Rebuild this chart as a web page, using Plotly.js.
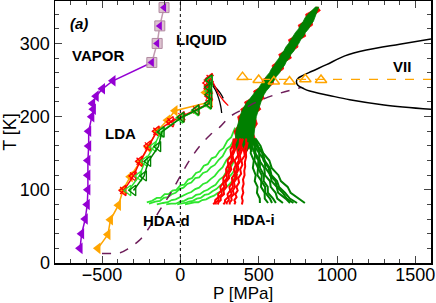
<!DOCTYPE html>
<html><head><meta charset="utf-8">
<script src="https://cdn.plot.ly/plotly-3.0.1.min.js"></script>
<style>html,body{margin:0;padding:0;background:#fff}#plot{width:436px;height:303px}</style>
</head><body><div id="plot"></div>
<script>
// ---- data (P in MPa, T in K) ----
const vaporP = [-640,-630,-607,-594,-590,-590,-590,-585,-585,-565,-555,-560,-537,-497,-430,-182];
const vaporT = [20,40,60,80,100,120,140,160,180,200,210,218,228,238,249,274];
const squareP = [-182,-148,-131,-104];
const squareT = [274,300,324,349];

const orangeP = [-526,-462,-446,-395,-365,-320,-257,-204,-150,-82,-34,190,160,180];
const orangeT = [20,39,59,79,100,118,138,158,180,195,208,220,233,242];

const redP = [-362,-299,-257,-204,-150,-60,10,104,183,186,180,172,190];
const redT = [99,119,139,160,180,193,200,209,218,228,238,246,252];
const dgreenP = [-299,-231,-204,-140,-118,9,104,183,185,183,188];
const dgreenT = [99,119,139,159,179,199,209,218,230,240,250];
const lgreenP = [-331,-262,-225,-170,-125,0,100,180,186,190];
const lgreenT = [99,119,139,159,179,198,208,217,235,249];

const redArcP = [172,190,215,242,275,306];
const redArcT = [248,252,244,232,222,215];
const black1P = [195,225,255,274];
const black1T = [248,240,232,225];
const black2P = [200,225,245,258,264];
const black2T = [244,236,225,214,205];

const hdaDashP = [-500,-440,-384,-330,-290,-256,-200,-160,-129,-60,-2,61,125,190,253,317,400,487,620,773];
const hdaDashT = [13,13,14,20,26,32,48,62,73,96,118,141,160,175,186,200,210,220,231,240];

const viiP = [1600,1400,1187,1050,933,840,780,750,741,750,790,826,950,1081,1300,1600];
const viiT = [306,299,291,283,271,262,256,252,248,243,238,235,229,223,216,210];

const meltP = [400,1600];
const meltT = [251,251];
const triP = [397,500,597,697,798,898];
const triT = [254,250,248,248,251,250];

// ---- noisy simulation trajectories ----
// main compression trunk (outline: left edge downwards, bottom, right edge upwards)
const trunkGP = [864,838,815,796,784,766,755,735,722,704,691,673,661,642,630,612,600,581,569,549,536,517,503,482,466,446,425,410,398,388,380,368,355,350,348,
  370,395,415,440,458,
  462,465,470,478,485,492,500,508,516,522,534,548,569,581,601,613,634,645,665,676,695,706,726,737,756,768,787,799,819,830,849,858,870,880,884];
const trunkGT = [350,345,340,335,330,325,320,315,310,305,300,295,290,285,280,275,270,265,260,255,250,245,240,235,230,225,220,215,210,205,200,190,180,170,160,
  152,160,150,158,152,
  160,170,180,190,200,205,210,215,220,225,230,235,240,245,250,255,260,265,270,275,280,285,290,295,300,305,310,315,320,325,330,335,340,345,350];
const trunkRP = [870,846,800,804,792,752,763,743,730,690,699,681,669,628,638,620,586,589,577,557,522,525,511,468,474,454,410,418,385,396,366,376,342,358,356,
  378,398,420,438,452,
  454,479,462,492,477,484,514,500,508,536,526,540,561,595,593,605,626,659,657,668,709,698,718,751,748,760,801,791,811,844,841,850,862,894,876];
const trunkRT = trunkGT;

// decompression strands to HDA-d (light green)
const l1P = [350,325,300,275,250,225,200,175,150,125,100,75,50,25,0,-25,-50,-75,-100,-125,-150,-180,-214];
const l1T = [185,172,167,157,153,145,143,135,133,125,123,116,114,107,106,100,99,94,94,89,89,85,83];
const l2P = [345,320,295,270,245,220,195,170,145,120,95,70,45,20,-5,-30,-55,-80,-105,-130,-160,-200];
const l2T = [170,160,156,146,141,134,131,125,123,117,116,110,108,103,101,96,94,90,89,85,84,81];
const l3P = [345,320,295,270,245,220,195,170,145,120,95,70,45,20,-5,-30,-55,-80,-110,-150];
const l3T = [155,146,141,131,126,119,115,110,108,103,101,97,95,92,90,87,86,83,82,80];
const l4P = [350,325,300,275,250,225,200,175,150,125,100,75,50,25,0,-30,-60,-90];
const l4T = [142,132,127,118,114,107,104,100,98,94,93,89,88,85,84,81,81,80];
const l5P = [355,330,305,280,255,230,205,180,155,130,105,80,55,30,0,-20];
const l5T = [130,122,116,110,106,101,98,94,93,89,88,85,84,82,81,80];
const l6P = [365,340,315,290,265,240,215,190,165,140,115,90,60,30];
const l6T = [122,114,108,103,98,96,92,90,87,86,83,83,81,80];

// cooling strands (red)
const rT = [170,162,155,147,140,134,128,122,116,110,104,99,94,90,86,83,80];
const r1P = [340,338,320,325,302,306,292,294,274,275,255,260,241,243,223,221,210];
const r7P = [350,335,340,324,328,307,313,295,298,275,280,262,265,244,244,228,225];
const r2P = [360,345,350,334,338,318,325,308,311,289,294,276,279,257,258,243,240];
const r3P = [380,380,363,369,347,354,342,348,329,333,313,318,301,305,285,285,275];
const r8P = [390,378,384,369,374,355,362,347,351,331,336,321,327,308,310,297,295];
const r4P = [400,388,395,380,386,366,372,357,361,342,349,335,342,324,328,316,315];
const r5P = [420,421,405,411,390,396,382,388,369,375,358,366,351,359,345,351,345];
const r6P = [430,418,420,412,414,408,410,400,404,396,402,392,398,393];
const r6T = [165,152,145,138,132,126,120,114,108,102,96,90,85,80];

// cooling strands (dark green)
const gT = [170,160,150,140,130,120,112,104,96,88,82];
const g1P = [440,454,449,469,463,481,475,493,489,507,508];
const g2P = [450,454,478,473,496,492,517,515,538,539,560];
const g9P = [454,473,472,498,495,520,517,541,542,572,585];
const g3P = [458,479,479,508,508,534,532,558,559,592,610];
const g4P = [464,474,503,505,536,540,572,577,608,619,655];
const g5P = [470,495,504,538,543,576,582,615,624,672,700];
const g8P = [472,487,523,531,564,572,607,617,653,679,722];
const g6P = [475,492,528,538,571,582,617,630,668,699,745];
const g7P = [480,512,529,568,583,626,642,685,704,757,795];

// ---- colours ----
const PURPLE = '#9400D3', ORANGE = '#FFA500', RED = '#FF0000', DGREEN = '#008000', LGREEN = '#2EE62E', HDA = '#6E1E5A';

const poly = (x, y, c) => ({x, y, type:'scatter', mode:'lines', fill:'toself', fillcolor:c, line:{color:c, width:0.8}});
const strand = (x, y, c, w) => ({x, y, type:'scatter', mode:'lines', line:{color:c, width:w || 2}});

const traces = [
  strand(l1P, l1T, LGREEN, 1.8), strand(l2P, l2T, LGREEN, 1.8), strand(l3P, l3T, LGREEN, 1.8),
  strand(l4P, l4T, LGREEN, 1.8), strand(l5P, l5T, LGREEN, 1.8), strand(l6P, l6T, LGREEN, 1.8),
  poly(trunkRP, trunkRT, RED),
  poly(trunkGP, trunkGT, DGREEN),
  strand(g1P, gT, DGREEN), strand(g2P, gT, DGREEN), strand(g9P, gT, DGREEN), strand(g3P, gT, DGREEN), strand(g4P, gT, DGREEN),
  strand(g5P, gT, DGREEN), strand(g8P, gT, DGREEN), strand(g6P, gT, DGREEN), strand(g7P, gT, DGREEN),
  strand(r1P, rT, RED), strand(r7P, rT, RED), strand(r2P, rT, RED), strand(r3P, rT, RED), strand(r8P, rT, RED),
  strand(r4P, rT, RED), strand(r5P, rT, RED), strand(r6P, r6T, RED),
  {x:hdaDashP, y:hdaDashT, type:'scatter', mode:'lines', line:{color:HDA, width:1.5, dash:'dash', shape:'spline'}},
  {x:viiP, y:viiT, type:'scatter', mode:'lines', line:{color:'#000', width:1.5, shape:'spline'}},
  {x:meltP, y:meltT, type:'scatter', mode:'lines', line:{color:ORANGE, width:1.3, dash:'dash'}},
  {x:triP, y:triT, type:'scatter', mode:'markers', marker:{symbol:'triangle-up-open', size:10, color:ORANGE, line:{width:1.5}}},
  {x:black1P, y:black1T, type:'scatter', mode:'lines', line:{color:'#000', width:1.3, shape:'spline'}},
  {x:black2P, y:black2T, type:'scatter', mode:'lines', line:{color:'#000', width:1.3, shape:'spline'}},
  {x:redArcP, y:redArcT, type:'scatter', mode:'lines', line:{color:RED, width:1.3, shape:'spline'}},
  {x:orangeP, y:orangeT, type:'scatter', mode:'lines+markers', line:{color:ORANGE, width:1.5}, marker:{symbol:'triangle-left', size:10, color:ORANGE}},
  {x:redP, y:redT, type:'scatter', mode:'lines+markers', line:{color:RED, width:1.5}, marker:{symbol:'triangle-left-open', size:9, color:RED, line:{width:1.3}}},
  {x:redP, y:redT, type:'scatter', mode:'markers', marker:{symbol:'x-thin-open', size:7, color:RED, line:{width:1.3, color:RED}}},
  {x:lgreenP, y:lgreenT, type:'scatter', mode:'lines+markers', line:{color:LGREEN, width:1.5}, marker:{symbol:'triangle-left-open', size:9, color:LGREEN, line:{width:1.3}}},
  {x:dgreenP, y:dgreenT, type:'scatter', mode:'lines+markers', line:{color:DGREEN, width:1.5}, marker:{symbol:'triangle-left-open', size:9, color:DGREEN, line:{width:1.3}}},
  {x:vaporP, y:vaporT, type:'scatter', mode:'lines+markers', line:{color:PURPLE, width:1.5}, marker:{symbol:'triangle-left', size:10, color:PURPLE}},
  {x:squareP, y:squareT, type:'scatter', mode:'lines+markers', line:{color:'#C29AB0', width:1.5}, marker:{symbol:'square', size:10, color:'rgba(215,185,200,0.85)', line:{color:'#B08AA0', width:1}}},
  {x:squareP, y:squareT, type:'scatter', mode:'markers', marker:{symbol:'triangle-left', size:8, color:PURPLE}}
];

const FONT = 'Liberation Sans, Arial, sans-serif';
const lab = (x, y, t) => ({x, y, text:t, showarrow:false, font:{family:FONT, size:15, color:'#000'}});
const layout = {
  width:436, height:303,
  margin:{l:55, r:5, t:1, b:40},
  paper_bgcolor:'#fff', plot_bgcolor:'#fff',
  showlegend:false, hovermode:false,
  font:{family:FONT, size:18, color:'#000'},
  xaxis:{range:[-800,1600], tickvals:[-500,0,500,1000,1500], ticks:'inside', ticklen:7, tickwidth:1, mirror:'allticks',
    showline:true, linewidth:1.5, linecolor:'#000', showgrid:false, zeroline:false, ticklabeloverflow:'allow',
    ticklabelstandoff:-5,
    minor:{ticks:'inside', dtick:100, tick0:0, ticklen:4, tickwidth:1, showgrid:false},
    tickfont:{size:18}},
  yaxis:{range:[0,358], tickvals:[0,100,200,300], ticks:'inside', ticklen:7, tickwidth:1, mirror:'allticks',
    showline:true, linewidth:1.5, linecolor:'#000', showgrid:false, zeroline:false, ticklabeloverflow:'allow',
    minor:{ticks:'inside', dtick:20, tick0:0, ticklen:4, tickwidth:1, showgrid:false},
    tickfont:{size:18}, title:{text:'T [K]', font:{size:18}, standoff:2}},
  shapes:[{type:'line', xref:'x', yref:'paper', x0:0, x1:0, y0:0, y1:1, line:{color:'#000', width:1, dash:'dot'}}],
  annotations:[
    {xref:'paper', yref:'paper', x:0.5, y:-0.118, xanchor:'center', yanchor:'middle', text:'P [MPa]', showarrow:false, font:{family:FONT, size:17, color:'#000'}},
    lab(-647,327,'<b><i>(a)</i></b>'),
    lab(-525,283,'<b>VAPOR</b>'),
    lab(134,305,'<b>LIQUID</b>'),
    lab(-384,177,'<b>LDA</b>'),
    lab(-89,58,'<b>HDA-d</b>'),
    lab(468,60,'<b>HDA-i</b>'),
    lab(1412,269,'<b>VII</b>')
  ]
};
Plotly.newPlot('plot', traces, layout, {staticPlot:true, displayModeBar:false});
</script></body></html>
